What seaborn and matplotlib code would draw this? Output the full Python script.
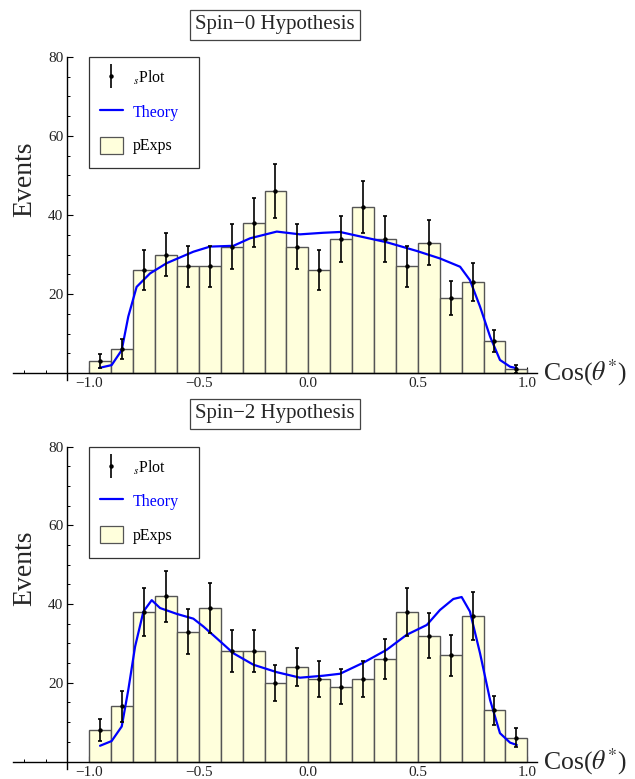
import numpy as np
import pandas as pd
import matplotlib
matplotlib.use('Agg')
import matplotlib.pyplot as plt
import seaborn as sns
from matplotlib.lines import Line2D
from matplotlib.patches import Patch, Rectangle
from matplotlib.ticker import MultipleLocator, FixedLocator
from matplotlib.container import ErrorbarContainer
from matplotlib.legend_handler import HandlerErrorbar

sns.set_style('ticks')
plt.rcParams['font.family'] = ['Liberation Serif', 'DejaVu Serif']
plt.rcParams['mathtext.fontset'] = 'stix'

# bin edges of the cos(theta*) histogram
bin_edges = [-1.0, -0.9, -0.8, -0.7, -0.6, -0.5, -0.4, -0.3, -0.2, -0.1, 0.0,
             0.1, 0.2, 0.3, 0.4, 0.5, 0.6, 0.7, 0.8, 0.9, 1.0]
bin_centers = [-0.95, -0.85, -0.75, -0.65, -0.55, -0.45, -0.35, -0.25, -0.15, -0.05,
               0.05, 0.15, 0.25, 0.35, 0.45, 0.55, 0.65, 0.75, 0.85, 0.95]

# spin-0
spin0_pexps = [3, 6, 26, 30, 27, 27, 32, 38, 46, 32, 26, 34, 42, 34, 27, 33, 19, 23, 8, 1]
spin0_splot = [3, 6, 26, 30, 27, 27, 32, 38, 46, 32, 26, 34, 42, 34, 27, 33, 19, 23, 8, 1]
spin0_err = [1.7, 2.5, 5.1, 5.5, 5.2, 5.2, 5.7, 6.2, 6.8, 5.7, 5.1, 5.8, 6.5, 5.8, 5.2, 5.7, 4.4, 4.8, 2.8, 1.0]
spin0_theory_x = [-0.954, -0.898, -0.852, -0.822, -0.784, -0.723, -0.647, -0.525, -0.449, -0.342,
                  -0.266, -0.144, -0.038, 0.068, 0.145, 0.251, 0.358, 0.495, 0.601, 0.693,
                  0.738, 0.784, 0.830, 0.875, 0.921, 0.952]
spin0_theory_y = [1.3, 2.0, 5.8, 14.3, 21.8, 25.2, 27.8, 30.7, 32.0, 32.2,
                  34.1, 35.8, 35.1, 35.5, 35.7, 34.4, 33.1, 30.9, 29.0, 26.9,
                  23.5, 16.8, 9.2, 3.3, 1.6, 1.2]

# spin-2
spin2_pexps = [8, 14, 38, 42, 33, 39, 28, 28, 20, 24, 21, 19, 21, 26, 38, 32, 27, 37, 13, 6]
spin2_splot = [8, 14, 38, 42, 33, 39, 28, 28, 20, 24, 21, 19, 21, 26, 38, 32, 27, 37, 13, 6]
spin2_err = [2.9, 3.9, 6.2, 6.5, 5.8, 6.3, 5.3, 5.3, 4.5, 4.9, 4.6, 4.4, 4.6, 5.1, 6.2, 5.7, 5.2, 6.1, 3.6, 2.4]
spin2_theory_x = [-0.951, -0.898, -0.852, -0.822, -0.791, -0.753, -0.715, -0.677, -0.600, -0.525,
                  -0.479, -0.418, -0.342, -0.251, -0.144, -0.038, 0.068, 0.145, 0.251, 0.358,
                  0.449, 0.541, 0.601, 0.662, 0.700, 0.738, 0.784, 0.830, 0.875, 0.921, 0.952]
spin2_theory_y = [4.0, 5.2, 8.9, 18.2, 29.2, 38.1, 41.0, 39.0, 37.5, 36.3,
                  34.3, 31.3, 27.5, 24.6, 22.7, 21.3, 21.8, 22.3, 25.1, 28.4,
                  32.2, 34.7, 38.5, 41.3, 41.8, 38.1, 27.5, 15.6, 7.2, 4.8, 4.2]

W, H = 635, 779
fig = plt.figure(figsize=(W / 100, H / 100), dpi=100)

BAR_FC = '#FFFFDC'
BAR_EC = '#555555'


def panel(y_top_px, y_zero_px, title, title_px, pexps, splot, err, tx, ty):
    px_per_unit = (y_zero_px - y_top_px) / 80.0
    y_bot_px = y_zero_px + 1.8 * px_per_unit
    x_left_px, x_right_px = 12.65, 537.2
    ax = fig.add_axes([x_left_px / W, 1 - y_bot_px / H,
                       (x_right_px - x_left_px) / W, (y_bot_px - y_top_px) / H])
    ax.set_facecolor('none')

    hist_df = pd.DataFrame({'cos': bin_centers, 'n': pexps})
    sns.histplot(data=hist_df, x='cos', weights='n', bins=bin_edges, ax=ax,
                 color=BAR_FC, edgecolor=BAR_EC, linewidth=1.0, alpha=1, zorder=2)
    theory_df = pd.DataFrame({'cos': tx, 'n': ty})
    sns.lineplot(data=theory_df, x='cos', y='n', ax=ax, color='#0000FF', linewidth=1.6,
                 zorder=4, sort=False)
    ax.errorbar(bin_centers, splot, yerr=err, fmt='o', color='black', ms=2.2,
                elinewidth=1.2, capsize=1.6, capthick=1.2, zorder=5)

    ax.set_xlim(-1.35, 1.045)
    ax.set_ylim(-1.8, 80)
    ax.set_xlabel('')
    ax.set_ylabel('')
    for s in ['top', 'right']:
        ax.spines[s].set_visible(False)
    ax.spines['left'].set_position(('data', -1.1))
    ax.spines['bottom'].set_position(('data', 0))
    ax.spines['left'].set_linewidth(1.0)
    ax.spines['bottom'].set_linewidth(1.0)
    ax.spines['left'].set_color('black')
    ax.spines['bottom'].set_color('black')
    ax.spines['bottom'].set_zorder(6)

    ax.xaxis.set_major_locator(FixedLocator([-1.0, -0.5, 0.0, 0.5, 1.0]))
    ax.xaxis.set_minor_locator(FixedLocator([-1.3, -1.2]))
    ax.set_xticklabels(['\u22121.0', '\u22120.5', '0.0', '0.5', '1.0'])
    ax.yaxis.set_major_locator(FixedLocator([20, 40, 60, 80]))
    ax.yaxis.set_minor_locator(MultipleLocator(5))
    ax.tick_params(axis='both', which='major', direction='in', length=4, width=0.8,
                   labelsize=11, color='black', labelcolor='#222222', pad=3)
    ax.tick_params(axis='both', which='minor', direction='in', length=2.5, width=0.7, color='black')
    ax.tick_params(axis='x', which='both', pad=3)

    ax.text(1.072, 0, r'Cos($\theta^{*}$)', fontsize=18.5, ha='left', va='center',
            clip_on=False)

    fig.text(275 / W, 1 - title_px / H, title, fontsize=15, ha='center', va='center',
             bbox=dict(boxstyle='square,pad=0.25', fc='white', ec='#444444', lw=0.9))
    fig.text(25 / W, 1 - (y_top_px + 122) / H, 'Events', fontsize=20, rotation=90,
             ha='center', va='center')

    # legend frame
    ax.add_patch(Rectangle((89 / W, 1 - (y_top_px + 111) / H), 110 / W, 111 / H,
                           transform=fig.transFigure, fc='white', ec='#333333', lw=0.9,
                           zorder=7, clip_on=False))
    handles = [
        ax.errorbar([], [], yerr=[], fmt='o', color='black', ms=2.2, elinewidth=1.2,
                    capsize=1.6, capthick=1.2),
        Line2D([], [], color='#0000FF', lw=1.6),
        Patch(fc=BAR_FC, ec=BAR_EC, lw=0.9),
    ]
    leg = ax.legend(handles, [r'${}_{s}$Plot', 'Theory', 'pExps'],
                    loc='upper left', bbox_to_anchor=(95 / W, 1 - (y_top_px + 7) / H),
                    bbox_transform=fig.transFigure, frameon=False, fontsize=11.5,
                    handlelength=1.45, handleheight=1.25, handletextpad=0.63,
                    labelspacing=1.0, borderaxespad=0, borderpad=0.3,
                    labelcolor=['black', '#0000FF', 'black'],
                    handler_map={ErrorbarContainer: HandlerErrorbar(yerr_size=0.75)})
    leg.set_zorder(8)
    return ax


panel(57, 373, 'Spin\u22120 Hypothesis', 25, spin0_pexps, spin0_splot, spin0_err,
      spin0_theory_x, spin0_theory_y)
panel(446.7, 761.5, 'Spin\u22122 Hypothesis', 414, spin2_pexps, spin2_splot, spin2_err,
      spin2_theory_x, spin2_theory_y)

fig.savefig('out.png', dpi=100)
